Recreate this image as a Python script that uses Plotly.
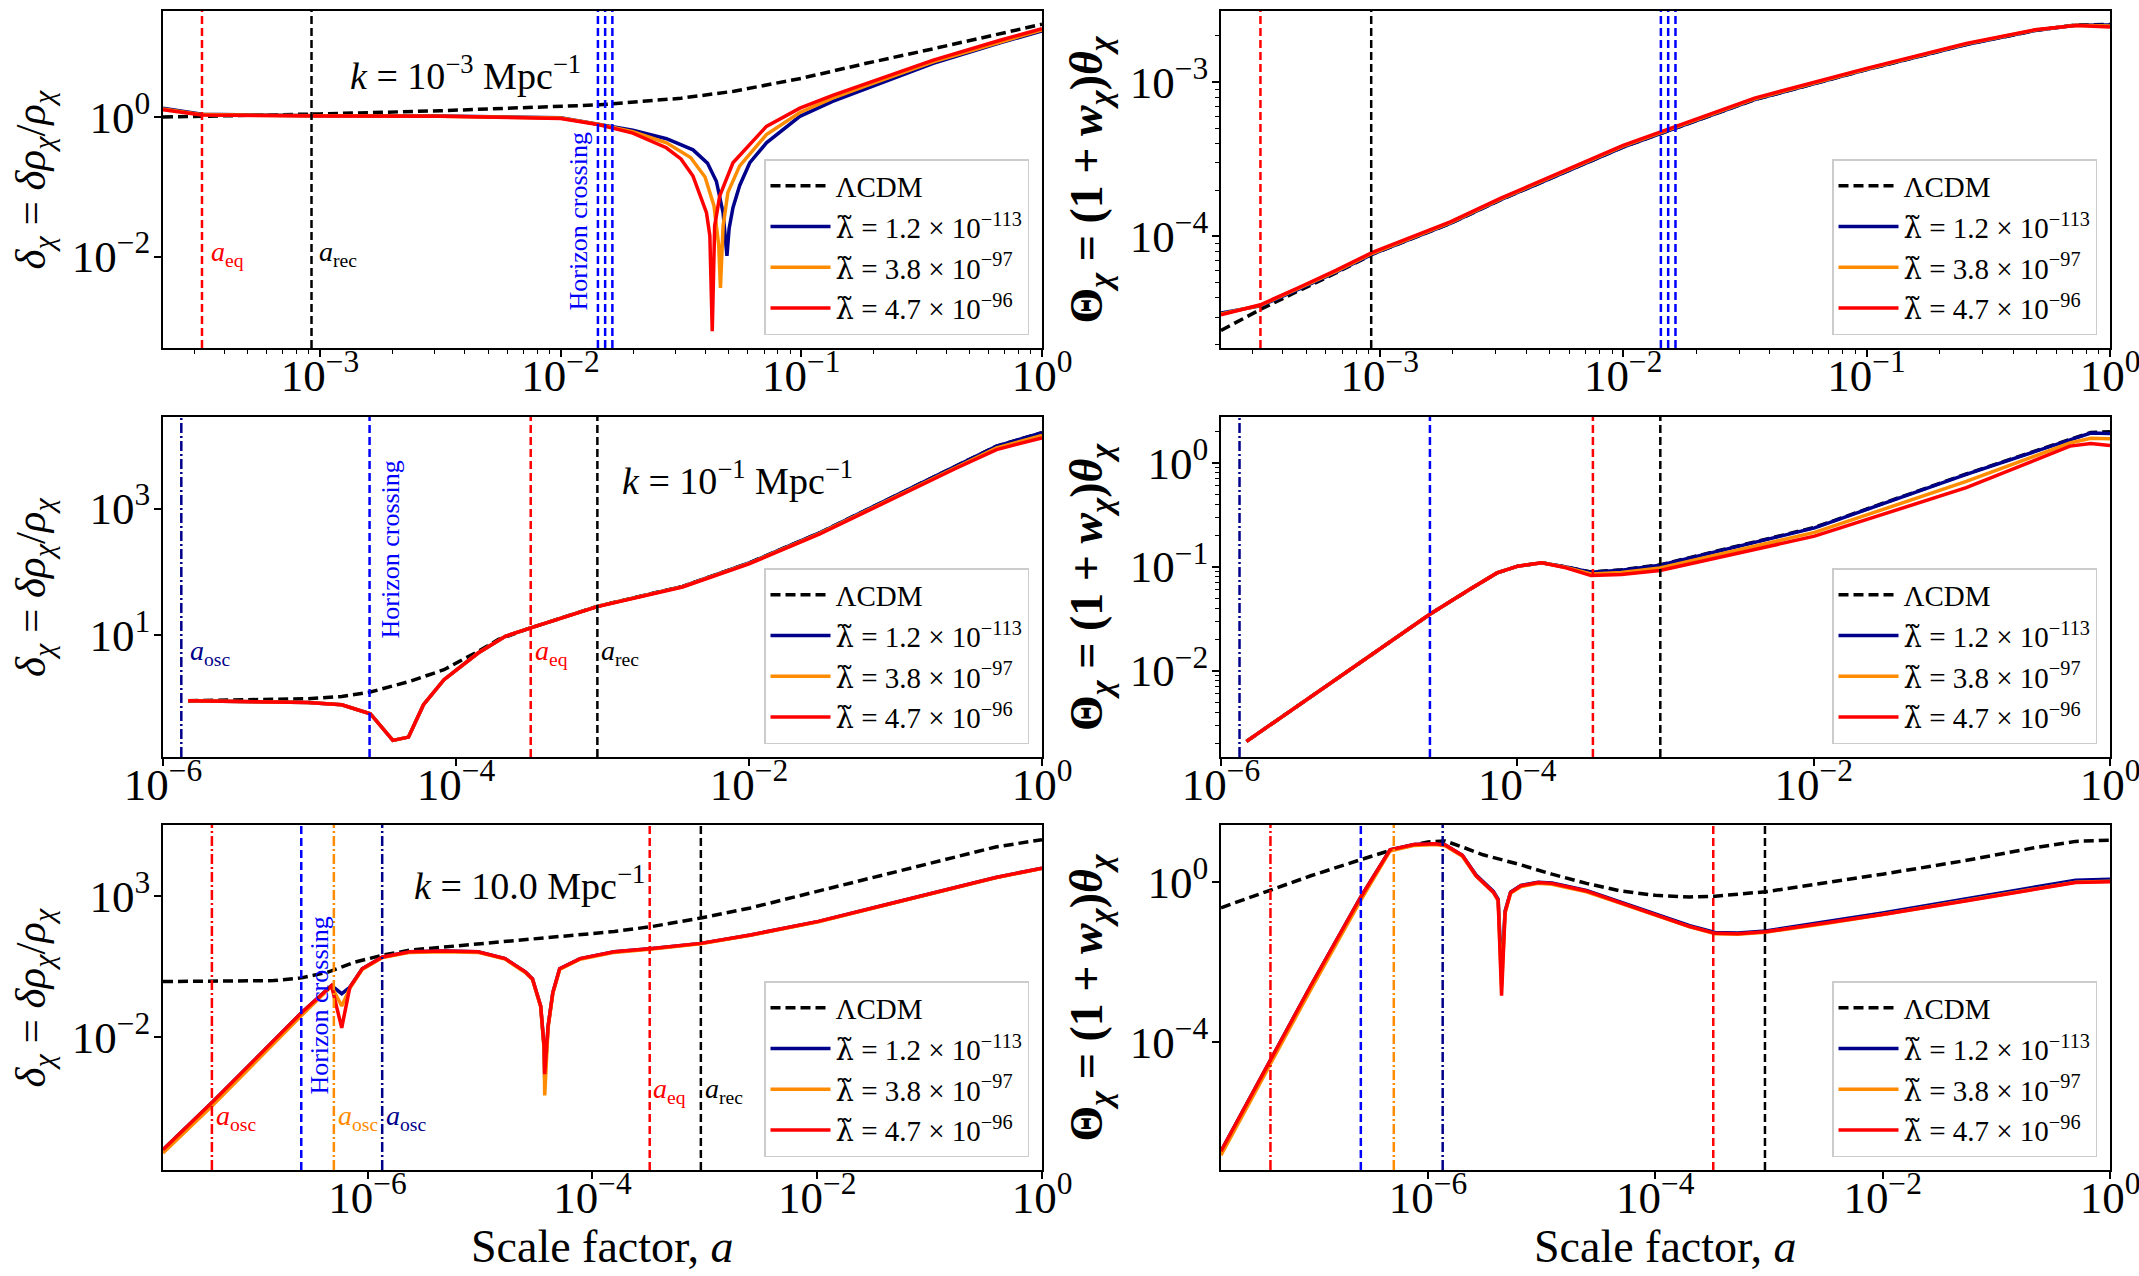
import numpy as np
import plotly.graph_objects as go

# legend labels and colours of the four curves
LAM = "<span style=\"font-family:'DejaVu Serif'\">λ\u0303</span>"
names = ["ΛCDM",
         LAM + " = 1.2 × 10<sup>−113</sup>",
         LAM + " = 3.8 × 10<sup>−97</sup>",
         LAM + " = 4.7 × 10<sup>−96</sup>"]
colors = ["black", "#00008b", "#ff8c00", "#ff0000"]

# all values below are log10(a) and log10(quantity)

# ---- k = 1e-3 Mpc^-1, density contrast
d1_lcdm_x = [-3.652, -3.3, -3.0, -2.5, -2.0, -1.84, -1.5, -1.28, -1.0, -0.73, -0.45, -0.17, 0.0]
d1_lcdm_y = [0.0, 0.02, 0.045, 0.09, 0.155, 0.175, 0.27, 0.37, 0.555, 0.77, 0.98, 1.2, 1.33]
d1_blue_x = [-3.652, -3.49, -3.0, -2.5, -2.0, -1.84, -1.7, -1.56, -1.45, -1.39, -1.353, -1.325, -1.309,
             -1.30, -1.284, -1.256, -1.214, -1.145, -1.006, -0.87, -0.729, -0.452, -0.174, 0.0]
d1_blue_y = [0.128, 0.04, 0.02, 0.015, -0.01, -0.10, -0.19, -0.31, -0.47, -0.66, -0.92, -1.37, -1.99,
             -1.6, -1.3, -0.98, -0.655, -0.37, 0.01, 0.225, 0.413, 0.77, 1.063, 1.234]
d1_orange_x = [-3.652, -3.49, -3.0, -2.5, -2.0, -1.84, -1.7, -1.56, -1.46, -1.40, -1.363, -1.343, -1.336,
               -1.325, -1.305, -1.256, -1.145, -1.006, -0.87, -0.729, -0.452, -0.174, 0.0]
d1_orange_y = [0.115, 0.035, 0.017, 0.012, -0.015, -0.105, -0.21, -0.37, -0.58, -0.86, -1.27, -1.84, -2.45,
               -1.56, -1.08, -0.70, -0.25, 0.066, 0.27, 0.45, 0.79, 1.08, 1.25]
d1_red_x = [-3.652, -3.49, -3.0, -2.5, -2.0, -1.84, -1.7, -1.561, -1.50, -1.45, -1.394, -1.38, -1.370,
            -1.36, -1.339, -1.284, -1.145, -1.006, -0.87, -0.729, -0.452, -0.174, 0.0]
d1_red_y = [0.105, 0.03, 0.015, 0.01, -0.02, -0.11, -0.23, -0.44, -0.60, -0.846, -1.37, -1.70, -3.07,
            -1.56, -1.13, -0.655, -0.134, 0.128, 0.31, 0.484, 0.816, 1.10, 1.268]

# ---- k = 1e-3 Mpc^-1, velocity divergence
t1_x = [-3.652, -3.49, -3.33, -3.18, -3.03, -2.71, -2.5, -2.0, -1.46, -1.0, -0.59, -0.31, -0.14, 0.0]
t1_lcdm_y = [-4.609, -4.473, -4.35, -4.237, -4.115, -3.915, -3.76, -3.42, -3.113, -2.918, -2.755, -2.665, -2.628, -2.625]
t1_blue_y = [-4.497, -4.45, -4.34, -4.232, -4.115, -3.915, -3.76, -3.42, -3.113, -2.918, -2.755, -2.665, -2.63, -2.628]
t1_orange_y = [-4.503, -4.446, -4.334, -4.226, -4.109, -3.91, -3.755, -3.414, -3.108, -2.914, -2.751, -2.662, -2.63, -2.635]
t1_red_y = [-4.508, -4.443, -4.329, -4.22, -4.103, -3.905, -3.75, -3.409, -3.103, -2.91, -2.748, -2.66, -2.632, -2.642]

# ---- k = 1e-1 Mpc^-1, density contrast
d2_lcdm_x = [-5.828, -5.013, -4.78, -4.585, -4.315, -4.082, -3.998, -3.849, -3.71, -3.495, -3.035,
             -2.453, -2.0, -1.52, -1.056, -0.59, -0.31, 0.0]
d2_lcdm_y = [-0.04, -0.008, 0.029, 0.098, 0.267, 0.451, 0.557, 0.741, 0.93, 1.11, 1.454,
             1.77, 2.14, 2.615, 3.14, 3.67, 3.99, 4.2]
d2_x = [-5.828, -5.013, -4.78, -4.585, -4.431, -4.324, -4.222, -4.082, -3.849, -3.663, -3.495, -3.035,
        -2.453, -2.0, -1.52, -1.056, -0.59, -0.31, 0.0]
d2_blue_y = [-0.04, -0.066, -0.103, -0.245, -0.667, -0.615, -0.103, 0.293, 0.715, 0.98, 1.11, 1.454,
             1.77, 2.14, 2.615, 3.14, 3.67, 3.99, 4.2]
d2_orange_y = [-0.04, -0.066, -0.103, -0.245, -0.667, -0.615, -0.103, 0.293, 0.715, 0.98, 1.11, 1.452,
               1.765, 2.132, 2.605, 3.128, 3.652, 3.962, 4.16]
d2_red_y = [-0.04, -0.066, -0.103, -0.245, -0.667, -0.615, -0.103, 0.293, 0.715, 0.98, 1.11, 1.45,
            1.76, 2.125, 2.595, 3.115, 3.635, 3.935, 4.12]

# ---- k = 1e-1 Mpc^-1, velocity divergence
t2_x = [-5.828, -5.208, -4.593, -4.323, -4.137, -3.997, -3.834, -3.671, -3.503, -3.298, -3.037,
        -1.994, -0.97, -0.27, -0.13, 0.0]
t2_lcdm_y = [-2.68, -2.07, -1.46, -1.22, -1.06, -0.995, -0.963, -1.003, -1.05, -1.03, -0.982,
             -0.622, -0.108, 0.225, 0.29, 0.299]
t2_blue_y = [-2.68, -2.07, -1.46, -1.22, -1.06, -0.995, -0.963, -1.003, -1.053, -1.034, -0.986,
             -0.626, -0.112, 0.22, 0.285, 0.282]
t2_orange_y = [-2.68, -2.07, -1.46, -1.22, -1.06, -0.995, -0.963, -1.008, -1.07, -1.055, -1.011,
               -0.67, -0.18, 0.19, 0.235, 0.231]
t2_red_y = [-2.68, -2.07, -1.46, -1.22, -1.06, -0.995, -0.963, -1.011, -1.085, -1.075, -1.037,
            -0.706, -0.24, 0.16, 0.186, 0.167]

# ---- k = 10 Mpc^-1, density contrast
d3_lcdm_x = [-7.82, -6.836, -6.588, -6.352, -6.109, -5.867, -5.624, -5.018, -4.412, -3.806, -3.467,
             -3.036, -2.594, -1.988, -1.382, -0.776, -0.412, 0.0]
d3_lcdm_y = [-0.02, 0.014, 0.11, 0.314, 0.674, 0.914, 1.094, 1.31, 1.513, 1.753, 1.933,
             2.233, 2.59, 3.19, 3.79, 4.39, 4.75, 5.01]
d3_x = [-7.82, -7.382, -6.588, -6.412, -6.321, -6.23, -6.158, -6.048, -5.867, -5.624, -5.321, -5.018,
        -4.776, -4.594, -4.533, -4.46, -4.43, -4.424, -4.394, -4.352, -4.291, -4.109, -3.806, -3.467,
        -3.036, -2.594, -1.988, -1.382, -0.776, -0.412, 0.0]
d3_blue_y = [-5.98, -4.30, -1.125, -0.465, -0.165, -0.45, -0.225, 0.434, 0.854, 1.034, 1.06, 1.034,
             0.794, 0.314, 0.074, -0.885, -2.32, -3.45, -1.6, -0.41, 0.434, 0.794, 1.034, 1.153,
             1.333, 1.633, 2.113, 2.712, 3.31, 3.67, 4.0]
d3_orange_y = [-6.10, -4.42, -1.22, -0.53, -0.19, -0.885, -0.26, 0.41, 0.83, 1.014, 1.04, 1.014,
               0.774, 0.29, 0.05, -0.91, -2.4, -4.06, -1.65, -0.44, 0.41, 0.774, 1.014, 1.135,
               1.318, 1.62, 2.1, 2.7, 3.3, 3.66, 3.99]
d3_red_y = [-5.98, -4.30, -1.125, -0.465, -0.165, -1.66, -0.225, 0.434, 0.854, 1.034, 1.06, 1.034,
            0.794, 0.314, 0.074, -0.885, -2.32, -3.3, -1.6, -0.41, 0.434, 0.794, 1.034, 1.153,
            1.333, 1.633, 2.113, 2.712, 3.31, 3.67, 4.0]

# ---- k = 10 Mpc^-1, velocity divergence
t3_lcdm_x = [-7.82, -7.394, -7.03, -6.594, -6.303, -6.0, -5.848, -5.697, -5.515, -5.212, -4.909, -4.606,
             -4.303, -4.0, -3.697, -3.473, -3.03, -2.485, -2.0, -1.273, -0.667, -0.303, 0.0]
t3_lcdm_y = [-0.64, -0.22, 0.16, 0.56, 0.82, 1.006, 1.03, 0.88, 0.685, 0.457, 0.20, -0.03,
             -0.22, -0.33, -0.37, -0.35, -0.24, -0.008, 0.2, 0.54, 0.86, 1.02, 1.05]
t3_x = [-7.82, -7.394, -7.03, -6.594, -6.333, -6.121, -5.939, -5.848, -5.697, -5.576, -5.485, -5.424,
        -5.382, -5.352, -5.321, -5.273, -5.182, -5.03, -4.909, -4.606, -4.303, -4.0, -3.697, -3.473,
        -3.273, -3.03, -2.485, -2.0, -1.273, -0.667, -0.303, 0.0]
t3_blue_y = [-6.73, -4.49, -2.59, -0.39, 0.81, 0.94, 0.96, 0.93, 0.67, 0.18, -0.08, -0.23,
             -0.43, -2.25, -0.72, -0.25, -0.08, 0.0, -0.02, -0.21, -0.50, -0.79, -1.09, -1.26,
             -1.27, -1.22, -0.99, -0.77, -0.42, -0.12, 0.05, 0.076]
t3_orange_y = [-6.83, -4.59, -2.68, -0.47, 0.78, 0.92, 0.94, 0.91, 0.65, 0.15, -0.11, -0.26,
               -0.46, -2.6, -0.77, -0.28, -0.11, -0.03, -0.05, -0.24, -0.53, -0.82, -1.12, -1.29,
               -1.30, -1.25, -1.03, -0.81, -0.46, -0.17, 0.0, 0.02]
t3_red_y = [-6.73, -4.49, -2.59, -0.39, 0.81, 0.94, 0.96, 0.93, 0.67, 0.16, -0.1, -0.25,
            -0.45, -2.84, -0.75, -0.26, -0.09, -0.008, -0.03, -0.22, -0.52, -0.81, -1.11, -1.28,
            -1.29, -1.24, -1.02, -0.81, -0.47, -0.18, -0.01, 0.008]

# characteristic scale factors (log10 a)
a_eq = -3.49
a_rec = -3.035
horizon_k1 = [-1.845, -1.815, -1.785]
horizon_k2 = -4.59
horizon_k3 = -6.59
a_osc_k2 = -5.875
a_osc_k3 = [-7.385, -6.30, -5.87]   # red, orange, navy

panels = [
    [(d1_lcdm_x, d1_lcdm_y), (d1_blue_x, d1_blue_y), (d1_orange_x, d1_orange_y), (d1_red_x, d1_red_y)],
    [(t1_x, t1_lcdm_y), (t1_x, t1_blue_y), (t1_x, t1_orange_y), (t1_x, t1_red_y)],
    [(d2_lcdm_x, d2_lcdm_y), (d2_x, d2_blue_y), (d2_x, d2_orange_y), (d2_x, d2_red_y)],
    [(t2_x, t2_lcdm_y), (t2_x, t2_blue_y), (t2_x, t2_orange_y), (t2_x, t2_red_y)],
    [(d3_lcdm_x, d3_lcdm_y), (d3_x, d3_blue_y), (d3_x, d3_orange_y), (d3_x, d3_red_y)],
    [(t3_lcdm_x, t3_lcdm_y), (t3_x, t3_blue_y), (t3_x, t3_orange_y), (t3_x, t3_red_y)],
]

x_ranges = [[-3.652, 0], [-3.652, 0], [-6, 0], [-6, 0], [-7.82, 0], [-7.82, 0]]
y_ranges = [[-3.31, 1.52], [-4.723, -2.538], [-0.93, 4.45], [-2.83, 0.44], [-6.70, 5.53], [-7.20, 1.43]]
x_ticks = [[-3, -2, -1, 0], [-3, -2, -1, 0], [-6, -4, -2, 0], [-6, -4, -2, 0], [-6, -4, -2, 0], [-6, -4, -2, 0]]
y_ticks = [[-2, 0], [-4, -3], [1, 3], [-2, -1, 0], [-2, 3], [-4, 0]]
x_minor = [True, True, False, False, False, False]
y_minor = [False, True, False, True, False, False]

W, H = 2139, 1276
x_dom = [[163 / W, 1042 / W], [1221 / W, 2110 / W]]
y_dom = [[1 - 348 / H, 1 - 11 / H], [1 - 757 / H, 1 - 417 / H], [1 - 1170 / H, 1 - 825 / H]]

FONT = "Liberation Serif"


def tick_label(k):
    return "10<sup>" + ("−" if k < 0 else "") + str(abs(k)) + "</sup>"


def minor_vals(rng):
    lo, hi = int(np.floor(rng[0])), int(np.ceil(rng[1]))
    return [m * 10.0 ** e for e in range(lo, hi) for m in range(2, 10)]


fig = go.Figure()
layout = dict(width=W, height=H, margin=dict(l=0, r=0, t=0, b=0),
              paper_bgcolor="white", plot_bgcolor="white",
              font=dict(family=FONT, color="black", size=29), showlegend=True)

for n in range(1, 7):
    row, col = (n - 1) // 2, (n - 1) % 2
    sx = "" if n == 1 else str(n)
    leg = "legend" + sx
    for i, (lx, ly) in enumerate(panels[n - 1]):
        fig.add_trace(go.Scatter(
            x=10 ** np.array(lx), y=10 ** np.array(ly), mode="lines", name=names[i],
            line=dict(color=colors[i], width=3.5, dash="10px,5px" if i == 0 else "solid"),
            xaxis="x" + sx, yaxis="y" + sx, legend=leg, legendgroup=f"p{n}_{i}"))

    axis_common = dict(type="log", showline=True, linecolor="black", linewidth=1.5, mirror=True,
                       ticks="outside", ticklen=7, tickwidth=1.5, tickcolor="black", automargin=False,
                       ticklabeloverflow="allow", showgrid=False, zeroline=False,
                       tickfont=dict(size=45, family=FONT))
    xa = dict(axis_common, domain=x_dom[col], anchor="y" + sx, range=x_ranges[n - 1],
              tickmode="array", tickvals=[10.0 ** k for k in x_ticks[n - 1]],
              ticktext=[tick_label(k) for k in x_ticks[n - 1]], ticklabelstandoff=-20)
    if x_minor[n - 1]:
        xa["minor"] = dict(tickmode="array", tickvals=minor_vals(x_ranges[n - 1]),
                           ticks="outside", ticklen=4, tickwidth=1.2, tickcolor="black")
    ya = dict(axis_common, domain=y_dom[row], anchor="x" + sx, range=y_ranges[n - 1],
              tickmode="array", tickvals=[10.0 ** k for k in y_ticks[n - 1]],
              ticktext=[tick_label(k) for k in y_ticks[n - 1]], ticklabelstandoff=-5)
    if y_minor[n - 1]:
        ya["minor"] = dict(tickmode="array", tickvals=minor_vals(y_ranges[n - 1]),
                           ticks="outside", ticklen=4, tickwidth=1.2, tickcolor="black")
    layout["xaxis" + sx] = xa
    layout["yaxis" + sx] = ya
    layout[leg] = dict(x=x_dom[col][1] - 13 / W, y=y_dom[row][0] + 13 / H,
                       xanchor="right", yanchor="bottom", bgcolor="rgba(255,255,255,0.8)",
                       bordercolor="#cccccc", borderwidth=1.5, itemwidth=60,
                       tracegroupgap=0, font=dict(size=29, family=FONT))

fig.update_layout(**layout)

# vertical marker lines (shape x on a log axis takes the data value)
DASH = "8px,4px"
DASHDOT = "10px,3px,2px,3px"
markers = {1: [], 2: [], 3: [], 4: [], 5: [], 6: []}
for n in (1, 2):
    markers[n] += [(a_eq, "#ff0000", DASH), (a_rec, "black", DASH)]
    markers[n] += [(h, "#0000ff", DASH) for h in horizon_k1]
for n in (3, 4):
    markers[n] += [(a_osc_k2, "#00008b", DASHDOT), (horizon_k2, "#0000ff", DASH),
                   (a_eq, "#ff0000", DASH), (a_rec, "black", DASH)]
for n in (5, 6):
    markers[n] += [(x, c, DASHDOT) for x, c in zip(a_osc_k3, ["#ff0000", "#ff8c00", "#00008b"])]
    markers[n] += [(horizon_k3, "#0000ff", DASH), (a_eq, "#ff0000", DASH), (a_rec, "black", DASH)]

for n, lines in markers.items():
    sx = "" if n == 1 else str(n)
    for x, c, d in lines:
        fig.add_shape(type="line", xref="x" + sx, yref="y" + sx + " domain",
                      x0=10 ** x, x1=10 ** x, y0=0, y1=1,
                      line=dict(color=c, width=2.5, dash=d))

# text labels
ann = []


def label(n, x, y, text, color="black", size=28, xanchor="left", xshift=0, angle=0):
    sx = "" if n == 1 else str(n)
    ann.append(dict(xref="x" + sx, yref="y" + sx, x=x, y=y, text=text, showarrow=False,
                    xanchor=xanchor, yanchor="middle", xshift=xshift, textangle=angle,
                    font=dict(color=color, size=size, family=FONT)))


A_EQ = "<i>a</i><sub>eq</sub>"
A_REC = "<i>a</i><sub>rec</sub>"
A_OSC = "<i>a</i><sub>osc</sub>"
HC = "Horizon crossing"

label(1, -2.396, 0.63, "<i>k</i> = 10<sup>−3</sup> Mpc<sup>−1</sup>", size=38, xanchor="center")
label(1, -1.926, -1.49, HC, "#0000ff", size=26, xanchor="center", angle=-90)
label(1, a_eq, -1.96, A_EQ, "#ff0000", xshift=7)
label(1, a_rec, -1.96, A_REC, "black", xshift=5)

label(3, -2.08, 3.49, "<i>k</i> = 10<sup>−1</sup> Mpc<sup>−1</sup>", size=38, xanchor="center")
label(3, -4.445, 2.35, HC, "#0000ff", size=26, xanchor="center", angle=-90)
label(3, a_osc_k2, 0.716, A_OSC, "#00008b", xshift=7)
label(3, a_eq, 0.716, A_EQ, "#ff0000", xshift=2)
label(3, a_rec, 0.716, A_REC, "black", xshift=2)

label(5, -4.56, 3.49, "<i>k</i> = 10.0 Mpc<sup>−1</sup>", size=38, xanchor="center")
label(5, -6.425, -0.88, HC, "#0000ff", size=26, xanchor="center", angle=-90)
for x, c in zip(a_osc_k3, ["#ff0000", "#ff8c00", "#00008b"]):
    label(5, x, -4.84, A_OSC, c, xshift=2)
label(5, a_eq, -3.88, A_EQ, "#ff0000", xshift=1)
label(5, a_rec, -3.88, A_REC, "black", xshift=2)

# axis titles
DELTA_T = "<i>δ</i><sub><i>χ</i></sub> = <i>δρ</i><sub><i>χ</i></sub>/<i>ρ</i><sub><i>χ</i></sub>"
THETA_T = "<b>Θ<sub><i>χ</i></sub> = (1 + <i>w</i><sub><i>χ</i></sub>)<i>θ</i><sub><i>χ</i></sub></b>"
for row in range(3):
    yc = (y_dom[row][0] + y_dom[row][1]) / 2
    ann.append(dict(xref="paper", yref="paper", x=34 / W, y=yc, text=DELTA_T, showarrow=False,
                    textangle=-90, xanchor="center", yanchor="middle", font=dict(size=43, family=FONT)))
    ann.append(dict(xref="paper", yref="paper", x=1090 / W, y=yc, text=THETA_T, showarrow=False,
                    textangle=-90, xanchor="center", yanchor="middle", font=dict(size=46, family=FONT)))
for col in range(2):
    xc = (x_dom[col][0] + x_dom[col][1]) / 2
    ann.append(dict(xref="paper", yref="paper", x=xc, y=1 - 1246 / H, text="Scale factor, <i>a</i>",
                    showarrow=False, xanchor="center", yanchor="middle", font=dict(size=46, family=FONT)))

fig.update_layout(annotations=ann)

# drop the page's default body margin so the figure sits at the window's corner
fig.write_html("out.html", config={"displayModeBar": False},
               post_script="document.body.style.margin='0';")
